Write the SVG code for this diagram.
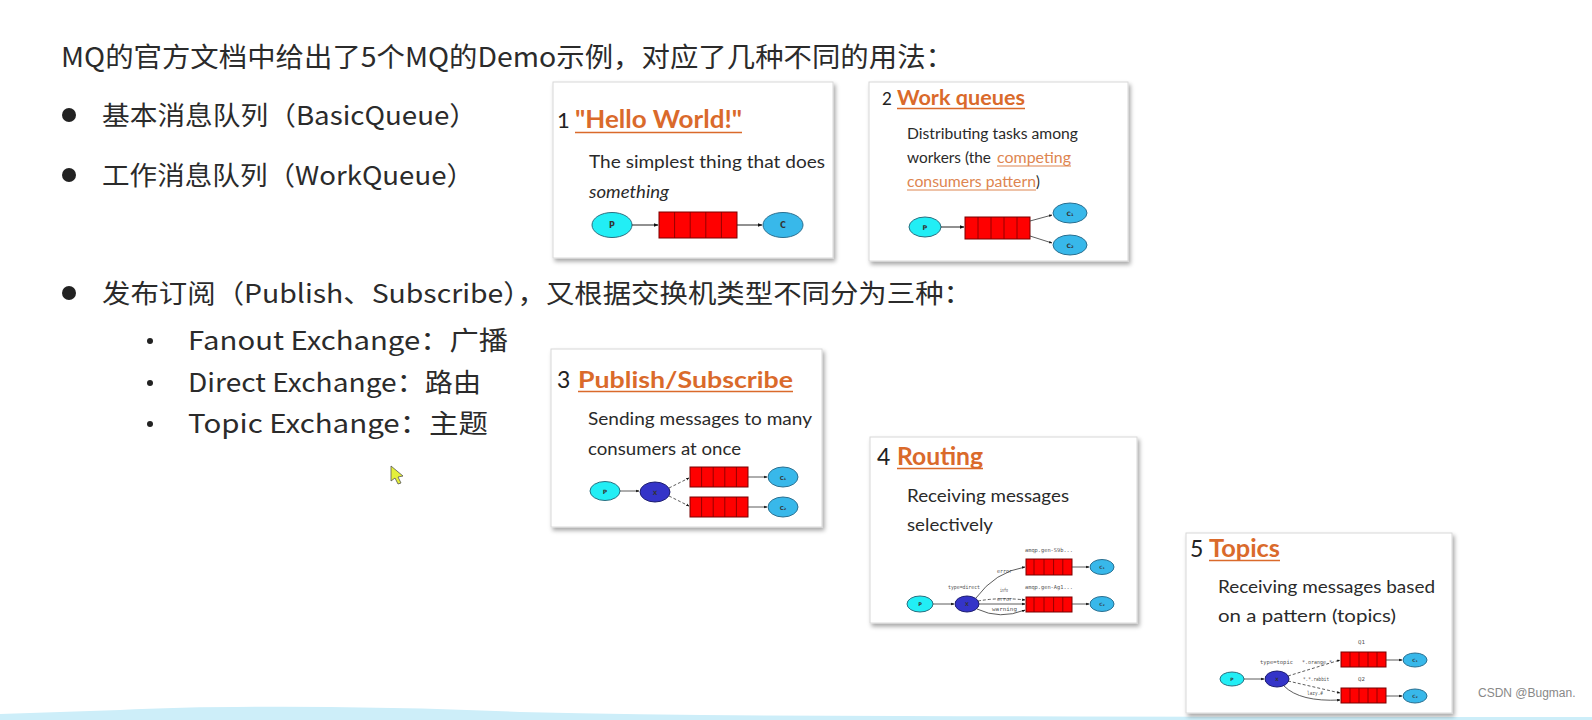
<svg xmlns="http://www.w3.org/2000/svg" width="1592" height="720" viewBox="0 0 1592 720">
<defs>
<filter id="sh" x="-5%" y="-5%" width="112%" height="115%">
<feDropShadow dx="2" dy="3" stdDeviation="2.2" flood-color="#000" flood-opacity="0.35"/>
</filter>
<marker id="ah" viewBox="0 0 10 10" refX="9" refY="5" markerWidth="5" markerHeight="5" orient="auto">
<path d="M0,1 L10,5 L0,9 Z" fill="#111"/>
</marker>
<marker id="ahs" viewBox="0 0 10 10" refX="9" refY="5" markerWidth="4" markerHeight="4" orient="auto">
<path d="M0,1 L10,5 L0,9 Z" fill="#111"/>
</marker>
</defs>
<style>
.main{font-family:"Noto Sans CJK SC","Noto Sans",sans-serif;fill:#2b2b2b;}
.card{fill:#fff;stroke:#d8d8d8;stroke-width:1;filter:url(#sh);}
.num{font-family:Lato,"Liberation Sans",sans-serif;fill:#222;}
.ttl{font-family:Lato,"Liberation Sans",sans-serif;font-weight:bold;fill:#DA6A2B;}
.ul{stroke:#DA6A2B;stroke-width:1.6;}
.desc{font-family:Lato,"Liberation Sans",sans-serif;fill:#2a2a2a;}
.link{fill:#DE8550;}
.lul{stroke:#DE8550;stroke-width:1;}
.q{fill:#ff0000;stroke:#7a0000;stroke-width:1;}
.qd{stroke:#7a0000;stroke-width:0.8;}
.p{fill:#22eef5;stroke:#2a6f80;stroke-width:1;}
.c{fill:#38b8ea;stroke:#2a6f90;stroke-width:1;}
.x{fill:#3434c8;stroke:#1d1d70;stroke-width:1;}
.lbl{font-family:"DejaVu Sans",sans-serif;fill:#333;font-weight:bold;}
.tiny{font-family:"DejaVu Sans Mono","Liberation Mono",monospace;fill:#555;font-size:5.5px;}
.ed{stroke:#222;stroke-width:1;fill:none;marker-end:url(#ah);}
.eds{stroke:#333;stroke-width:0.8;fill:none;marker-end:url(#ahs);}
.dash{stroke-dasharray:3 2;}
</style>

<rect width="1592" height="720" fill="#fff"/>
<path d="M0 714 Q 60 712 120 710 Q 200 706 330 707 Q 430 708 520 712 Q 700 716 900 716 Q 1200 717 1592 717 L1592 720 L0 720 Z" fill="#cdeef9"/>

<g id="text-intro">
<text class="main" x="61" y="67" font-size="27" textLength="893" lengthAdjust="spacingAndGlyphs">MQ的官方文档中给出了5个MQ的Demo示例，对应了几种不同的用法：</text>
<circle cx="69" cy="115" r="7" fill="#222"/>
<text class="main" x="102" y="125" font-size="26" textLength="375" lengthAdjust="spacingAndGlyphs">基本消息队列（BasicQueue）</text>
<circle cx="69" cy="175" r="7" fill="#222"/>
<text class="main" x="102" y="185" font-size="26" textLength="372" lengthAdjust="spacingAndGlyphs">工作消息队列（WorkQueue）</text>
<circle cx="69" cy="293" r="7" fill="#222"/>
<text class="main" x="102" y="303" font-size="26" textLength="870" lengthAdjust="spacingAndGlyphs">发布订阅（Publish、Subscribe），又根据交换机类型不同分为三种：</text>
<circle cx="150" cy="341" r="3" fill="#222"/>
<text class="main" x="188" y="350" font-size="26" textLength="320" lengthAdjust="spacingAndGlyphs">Fanout Exchange：广播</text>
<circle cx="150" cy="383" r="3" fill="#222"/>
<text class="main" x="188" y="392" font-size="26" textLength="293" lengthAdjust="spacingAndGlyphs">Direct Exchange：路由</text>
<circle cx="150" cy="424" r="3" fill="#222"/>
<text class="main" x="188" y="433" font-size="26" textLength="300" lengthAdjust="spacingAndGlyphs">Topic Exchange：主题</text>
</g>

<g id="card1">
<rect class="card" x="553" y="82" width="280" height="176"/>
<text class="num" x="557" y="128" font-size="22">1</text>
<text class="ttl" x="575" y="128" font-size="25" textLength="167" lengthAdjust="spacingAndGlyphs">"Hello World!"</text>
<line class="ul" x1="575" y1="132.5" x2="742" y2="132.5"/>
<text class="desc" x="589" y="168" font-size="18" textLength="236" lengthAdjust="spacingAndGlyphs">The simplest thing that does</text>
<text class="desc" x="589" y="198" font-size="18" font-style="italic" textLength="80" lengthAdjust="spacingAndGlyphs">something</text>
<ellipse class="p" cx="612" cy="225" rx="20" ry="12.5"/>
<text class="lbl" x="612" y="228" font-size="8" text-anchor="middle">P</text>
<rect class="q" x="659" y="212" width="78" height="26"/>
<path class="qd" d="M674.6 212V238M690.2 212V238M705.8 212V238M721.4 212V238"/>
<ellipse class="c" cx="783" cy="225" rx="20" ry="12.5"/>
<text class="lbl" x="783" y="228" font-size="8" text-anchor="middle">C</text>
</g>

<g id="card2">
<rect class="card" x="869" y="82" width="259" height="179"/>
<text class="num" x="882" y="105" font-size="17">2</text>
<text class="ttl" x="897" y="105" font-size="20" textLength="128" lengthAdjust="spacingAndGlyphs">Work queues</text>
<line class="ul" x1="897" y1="108.5" x2="1025" y2="108.5"/>
<text class="desc" x="907" y="139" font-size="14.5" textLength="171" lengthAdjust="spacingAndGlyphs">Distributing tasks among</text>
<text class="desc" x="907" y="163" font-size="14.5" textLength="84" lengthAdjust="spacingAndGlyphs">workers (the</text>
<text class="desc link" x="997" y="163" font-size="14.5" textLength="74" lengthAdjust="spacingAndGlyphs">competing</text>
<line class="lul" x1="997" y1="166" x2="1071" y2="166"/>
<text class="desc link" x="907" y="187" font-size="14.5" textLength="129" lengthAdjust="spacingAndGlyphs">consumers pattern</text>
<line class="lul" x1="907" y1="190" x2="1036" y2="190"/>
<text class="desc" x="1036" y="187" font-size="14.5">)</text>
<ellipse class="p" cx="925" cy="227" rx="16" ry="10"/>
<text class="lbl" x="925" y="229.5" font-size="6.5" text-anchor="middle" font-weight="normal">P</text>
<rect class="q" x="965" y="217" width="65" height="22"/>
<path class="qd" d="M978 217V239M991 217V239M1004 217V239M1017 217V239"/>
<ellipse class="c" cx="1070" cy="213" rx="17" ry="10"/>
<text class="lbl" x="1070" y="215.5" font-size="6" text-anchor="middle" font-weight="normal">C₁</text>
<ellipse class="c" cx="1070" cy="245" rx="17" ry="10"/>
<text class="lbl" x="1070" y="247.5" font-size="6" text-anchor="middle" font-weight="normal">C₂</text>
</g>

<g id="card3">
<rect class="card" x="551" y="349" width="271" height="178"/>
<text class="num" x="557" y="388" font-size="23">3</text>
<text class="ttl" x="578" y="388" font-size="23" textLength="215" lengthAdjust="spacingAndGlyphs">Publish/Subscribe</text>
<line class="ul" x1="578" y1="391.5" x2="793" y2="391.5"/>
<text class="desc" x="588" y="425" font-size="17" textLength="224" lengthAdjust="spacingAndGlyphs">Sending messages to many</text>
<text class="desc" x="588" y="455" font-size="17" textLength="153" lengthAdjust="spacingAndGlyphs">consumers at once</text>
<ellipse class="p" cx="605" cy="491" rx="15" ry="9.5"/>
<text class="lbl" x="605" y="493.5" font-size="6" text-anchor="middle" font-weight="normal">P</text>
<ellipse class="x" cx="655" cy="492" rx="15" ry="10"/>
<text class="lbl" x="655" y="494.5" font-size="6" text-anchor="middle" font-weight="normal" fill="#226">X</text>
<rect class="q" x="690" y="467" width="58" height="20"/>
<path class="qd" d="M701.6 467V487M713.2 467V487M724.8 467V487M736.4 467V487"/>
<rect class="q" x="690" y="497" width="58" height="20"/>
<path class="qd" d="M701.6 497V517M713.2 497V517M724.8 497V517M736.4 497V517"/>
<ellipse class="c" cx="783" cy="477" rx="15" ry="10"/>
<text class="lbl" x="783" y="479.5" font-size="5.5" text-anchor="middle" font-weight="normal">C₁</text>
<ellipse class="c" cx="783" cy="507" rx="15" ry="10"/>
<text class="lbl" x="783" y="509.5" font-size="5.5" text-anchor="middle" font-weight="normal">C₂</text>
</g>

<g id="card4">
<rect class="card" x="870" y="437" width="267" height="186"/>
<text class="num" x="877" y="465" font-size="23">4</text>
<text class="ttl" x="897" y="465" font-size="24" textLength="86" lengthAdjust="spacingAndGlyphs">Routing</text>
<line class="ul" x1="897" y1="468.5" x2="983" y2="468.5"/>
<text class="desc" x="907" y="502" font-size="17" textLength="162" lengthAdjust="spacingAndGlyphs">Receiving messages</text>
<text class="desc" x="907" y="531" font-size="17" textLength="86" lengthAdjust="spacingAndGlyphs">selectively</text>
<ellipse class="p" cx="920" cy="604" rx="13" ry="8"/>
<text class="lbl" x="920" y="606" font-size="5" text-anchor="middle" font-weight="normal">P</text>
<ellipse class="x" cx="967" cy="604" rx="12" ry="8"/>
<text class="lbl" x="967" y="606" font-size="5" text-anchor="middle" font-weight="normal" fill="#226">X</text>
<rect class="q" x="1026" y="559" width="46" height="16"/>
<path class="qd" d="M1034 559V575M1044 559V575M1053.6 559V575M1062.8 559V575"/>
<rect class="q" x="1026" y="597" width="46" height="15"/>
<path class="qd" d="M1034 597V612M1044 597V612M1053.6 597V612M1062.8 597V612"/>
<ellipse class="c" cx="1102" cy="567" rx="12" ry="7.5"/>
<text class="lbl" x="1102" y="569" font-size="4.5" text-anchor="middle" font-weight="normal">C₁</text>
<ellipse class="c" cx="1102" cy="604" rx="12" ry="7.5"/>
<text class="lbl" x="1102" y="606" font-size="4.5" text-anchor="middle" font-weight="normal">C₂</text>
<text class="tiny" x="1025" y="552" textLength="48" lengthAdjust="spacingAndGlyphs">amqp.gen-S9b...</text>
<text class="tiny" x="1025" y="589" textLength="48" lengthAdjust="spacingAndGlyphs">amqp.gen-Ag1...</text>
<text class="tiny" x="948" y="589" textLength="32" lengthAdjust="spacingAndGlyphs">type=direct</text>
<text class="tiny" x="997" y="573" textLength="15" lengthAdjust="spacingAndGlyphs">error</text>
<text class="tiny" x="1000" y="592" textLength="8" lengthAdjust="spacingAndGlyphs">info</text>
<text class="tiny" x="997" y="601" textLength="15" lengthAdjust="spacingAndGlyphs">error</text>
<text class="tiny" x="992" y="611" textLength="25" lengthAdjust="spacingAndGlyphs">warning</text>
</g>

<g id="card5">
<rect class="card" x="1186" y="533" width="266" height="180"/>
<text class="num" x="1190" y="557" font-size="23">5</text>
<text class="ttl" x="1209" y="557" font-size="24" textLength="71" lengthAdjust="spacingAndGlyphs">Topics</text>
<line class="ul" x1="1209" y1="560.5" x2="1280" y2="560.5"/>
<text class="desc" x="1218" y="593" font-size="17" textLength="217" lengthAdjust="spacingAndGlyphs">Receiving messages based</text>
<text class="desc" x="1218" y="622" font-size="17" textLength="178" lengthAdjust="spacingAndGlyphs">on a pattern (topics)</text>
<ellipse class="p" cx="1232" cy="679" rx="12" ry="7"/>
<text class="lbl" x="1232" y="681" font-size="4.5" text-anchor="middle" font-weight="normal">P</text>
<ellipse class="x" cx="1277" cy="679" rx="12" ry="8"/>
<text class="lbl" x="1277" y="681" font-size="4.5" text-anchor="middle" font-weight="normal" fill="#226">X</text>
<rect class="q" x="1341" y="652" width="45" height="15"/>
<path class="qd" d="M1350 652V667M1359 652V667M1368 652V667M1377 652V667"/>
<rect class="q" x="1341" y="688" width="45" height="15"/>
<path class="qd" d="M1350 688V703M1359 688V703M1368 688V703M1377 688V703"/>
<ellipse class="c" cx="1415" cy="660" rx="12" ry="7"/>
<text class="lbl" x="1415" y="662" font-size="4.5" text-anchor="middle" font-weight="normal">C₁</text>
<ellipse class="c" cx="1415" cy="696" rx="12" ry="7"/>
<text class="lbl" x="1415" y="698" font-size="4.5" text-anchor="middle" font-weight="normal">C₂</text>
<text class="tiny" x="1358" y="644" textLength="7" lengthAdjust="spacingAndGlyphs">Q1</text>
<text class="tiny" x="1358" y="681" textLength="7" lengthAdjust="spacingAndGlyphs">Q2</text>
<text class="tiny" x="1260" y="664" textLength="33" lengthAdjust="spacingAndGlyphs">type=topic</text>
<text class="tiny" x="1302" y="664" textLength="30" lengthAdjust="spacingAndGlyphs">*.orange.*</text>
<text class="tiny" x="1303" y="681" textLength="26" lengthAdjust="spacingAndGlyphs">*.*.rabbit</text>
<text class="tiny" x="1307" y="695" textLength="16" lengthAdjust="spacingAndGlyphs">lazy.#</text>
</g>

<g id="connectors">
<path class="ed" d="M632 225H658"/>
<path class="ed" d="M737 225H762"/>
<path class="ed" d="M941 227H964"/>
<path class="eds" d="M1030 221L1052 215"/>
<path class="eds" d="M1030 236L1052 243"/>
<path class="eds" d="M620 491H639"/>
<path class="eds dash" d="M669 488L689 478"/>
<path class="eds dash" d="M669 496L689 506"/>
<path class="eds" d="M748 477H767"/>
<path class="eds" d="M748 507H767"/>
<path class="eds" d="M933 604H954"/>
<path class="eds" d="M976 598Q995 572 1025 567"/>
<path class="eds dash" d="M978 601Q1000 597 1025 600"/>
<path class="eds" d="M979 604H1025"/>
<path class="eds" d="M977 609Q1000 620 1025 610"/>
<path class="eds" d="M1072 567H1089"/>
<path class="eds" d="M1072 604H1089"/>
<path class="eds" d="M1244 679H1264"/>
<path class="eds dash" d="M1288 676L1340 660"/>
<path class="eds dash" d="M1288 681L1340 693"/>
<path class="eds" d="M1284 686Q1300 702 1340 700"/>
<path class="eds" d="M1386 660H1402"/>
<path class="eds" d="M1386 696H1402"/>
</g>

<polygon points="391,466 391,481 395,478 398,484 401,483 398,477 403,476" fill="#e4ef3a" stroke="#555" stroke-width="0.8"/>
<text x="1478" y="697" font-family="'Liberation Sans',sans-serif" font-size="12" fill="#888">CSDN @Bugman.</text>
</svg>
